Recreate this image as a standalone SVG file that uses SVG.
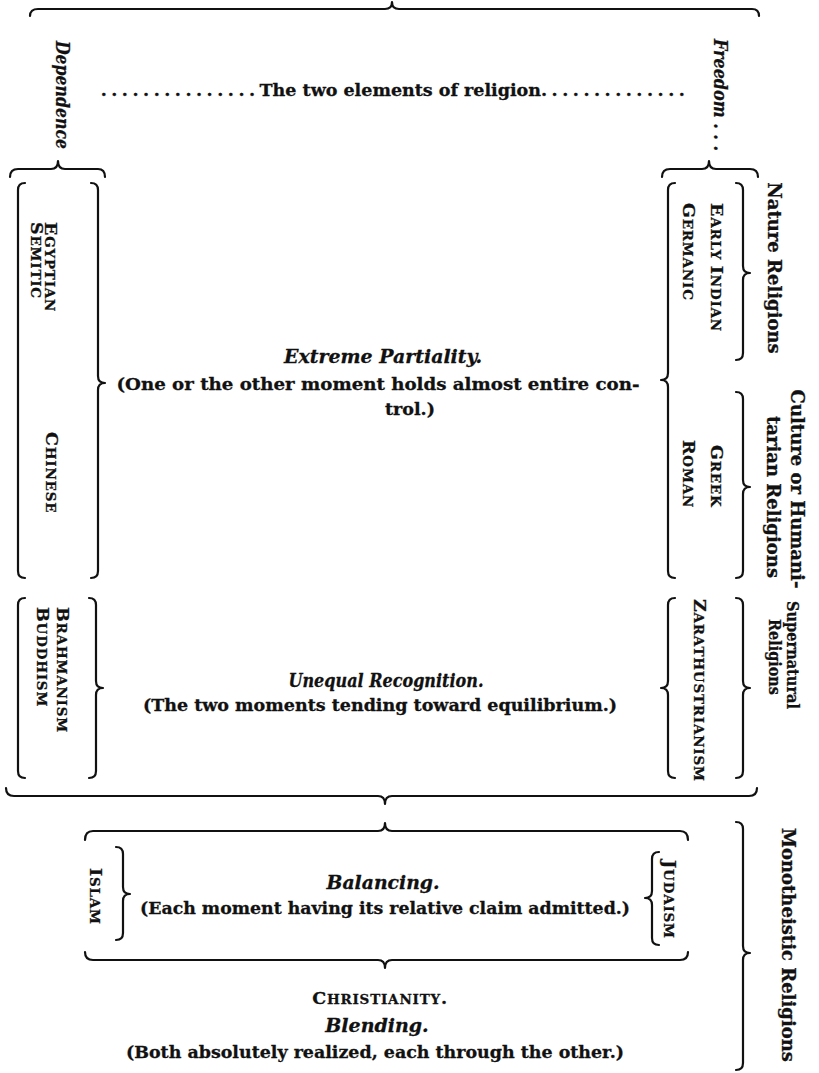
<svg xmlns="http://www.w3.org/2000/svg" width="819" height="1073" viewBox="0 0 819 1073">
<style>
.t{font-family:"DejaVu Serif","Liberation Serif",serif;font-weight:bold;fill:#111;font-size:17.5px;stroke:#111;stroke-width:0.3px}
.i{font-style:italic;font-size:19px}
.c{text-anchor:middle}
.sc{font-size:17.5px;letter-spacing:0.8px}
.sm{font-size:13.5px}
.lb{font-size:18px}
.dots{letter-spacing:4.5px}
.br{fill:none;stroke:#111;stroke-width:2.2;stroke-linecap:round;stroke-linejoin:round}
</style>
<rect width="819" height="1073" fill="#fff"/>
<g id="connectors">
<path class="br" d="M30,16 Q30,9 38,9 L385,9 Q392,9 392,2 Q392,9 399,9 L752,9 Q759,9 759,16"/>
<path class="br" d="M10,177 Q10,169 18,169 L51,169 Q58,169 58,161 Q58,169 65,169 L98,169 Q105,169 105,177"/>
<path class="br" d="M662,177 Q662,169 670,169 L702,169 Q709,169 709,161 Q709,169 716,169 L750,169 Q758,169 758,177"/>
<path class="br" d="M25,183 Q18,183 18,190 L18,571 Q18,578 25,578"/>
<path class="br" d="M91,183 Q98,183 98,190 L98,376 Q98,383 105,383 Q98,383 98,390 L98,571 Q98,578 91,578"/>
<path class="br" d="M675,183 Q668,183 668,190 L668,373 Q668,380 661,380 Q668,380 668,387 L668,571 Q668,578 675,578"/>
<path class="br" d="M736,183 Q743,183 743,190 L743,266 Q743,273 750,273 Q743,273 743,280 L743,353 Q743,360 736,360"/>
<path class="br" d="M736,392 Q743,392 743,399 L743,480 Q743,487 750,487 Q743,487 743,494 L743,571 Q743,578 736,578"/>
<path class="br" d="M25,598 Q18,598 18,605 L18,771 Q18,778 25,778"/>
<path class="br" d="M89,598 Q96,598 96,605 L96,681 Q96,688 103,688 Q96,688 96,695 L96,771 Q96,778 89,778"/>
<path class="br" d="M675,598 Q668,598 668,605 L668,681 Q668,688 661,688 Q668,688 668,695 L668,771 Q668,778 675,778"/>
<path class="br" d="M736,598 Q743,598 743,605 L743,681 Q743,688 750,688 Q743,688 743,695 L743,771 Q743,778 736,778"/>
<path class="br" d="M6,788 Q6,796 14,796 L378,796 Q385,796 385,804 Q385,796 392,796 L749,796 Q757,796 757,788"/>
<path class="br" d="M85,840 Q85,831 93,831 L378,831 Q385,831 385,823 Q385,831 392,831 L680,831 Q688,831 688,840"/>
<path class="br" d="M116,847 Q123,847 123,854 L123,887 Q123,894 130,894 Q123,894 123,901 L123,933 Q123,940 116,940"/>
<path class="br" d="M659,852 Q652,852 652,859 L652,891 Q652,898 645,898 Q652,898 652,905 L652,938 Q652,945 659,945"/>
<path class="br" d="M85,952 Q85,960 93,960 L378,960 Q385,960 385,968 Q385,960 392,960 L680,960 Q688,960 688,952"/>
<path class="br" d="M736,822 Q743,822 743,829 L743,946 Q743,953 750,953 Q743,953 743,960 L743,1063 Q743,1070 736,1070"/>
</g>
<g id="title"><text class="t c" x="395" y="96" font-size="18.5"><tspan class="dots">...............</tspan>The two elements of religion<tspan class="dots">..............</tspan></text></g>
<g id="dependence"><text class="t i c" transform="translate(56,95) rotate(90)" textLength="108" lengthAdjust="spacingAndGlyphs">Dependence</text></g>
<g id="freedom"><text class="t i c" transform="translate(714,95) rotate(90)" textLength="112" lengthAdjust="spacingAndGlyphs">Freedom . . .</text></g>
<g id="egyptian-semitic">
<text class="t sc" transform="translate(45,222) rotate(90)">E<tspan class="sm">GYPTIAN</tspan></text>
<text class="t sc" transform="translate(31,222) rotate(90)">S<tspan class="sm">EMITIC</tspan></text>
</g>
<g id="chinese"><text class="t sc" transform="translate(46,432) rotate(90)">C<tspan class="sm">HINESE</tspan></text></g>
<g id="extreme">
<text class="t i c" x="383" y="363" textLength="198" lengthAdjust="spacingAndGlyphs">Extreme Partiality.</text>
<text class="t c" x="378" y="390" textLength="523" lengthAdjust="spacingAndGlyphs">(One or the other moment holds almost entire con-</text>
<text class="t c" x="410" y="415">trol.)</text>
</g>
<g id="nature">
<text class="t sc" transform="translate(711,203) rotate(90)">E<tspan class="sm">ARLY </tspan>I<tspan class="sm">NDIAN</tspan></text>
<text class="t sc" transform="translate(683,203) rotate(90)">G<tspan class="sm">ERMANIC</tspan></text>
<text class="t lb c" transform="translate(768,268) rotate(90)">Nature Religions</text>
</g>
<g id="culture">
<text class="t sc" transform="translate(711,445) rotate(90)">G<tspan class="sm">REEK</tspan></text>
<text class="t sc" transform="translate(683,440) rotate(90)">R<tspan class="sm">OMAN</tspan></text>
<text class="t lb c" transform="translate(791,489) rotate(90)">Culture or Humani-</text>
<text class="t lb c" transform="translate(767,497) rotate(90)">tarian Religions</text>
</g>
<g id="brahmanism-buddhism">
<text class="t sc" transform="translate(57,607) rotate(90)">B<tspan class="sm">RAHMANISM</tspan></text>
<text class="t sc" transform="translate(37,607) rotate(90)">B<tspan class="sm">UDDHISM</tspan></text>
</g>
<g id="unequal">
<text class="t i c" x="386" y="687" textLength="195" lengthAdjust="spacingAndGlyphs">Unequal Recognition.</text>
<text class="t c" x="380" y="711">(The two moments tending toward equilibrium.)</text>
</g>
<g id="zarathustrianism"><text class="t sc" transform="translate(694,599) rotate(90)">Z<tspan class="sm">ARATHUSTRIANISM</tspan></text></g>
<g id="supernatural">
<text class="t c" font-size="17" transform="translate(787,655) rotate(90)" textLength="108" lengthAdjust="spacingAndGlyphs">Supernatural</text>
<text class="t c" font-size="17" transform="translate(769,657) rotate(90)" textLength="76" lengthAdjust="spacingAndGlyphs">Religions</text>
</g>
<g id="islam"><text class="t sc" transform="translate(90,868) rotate(90)">I<tspan class="sm">SLAM</tspan></text></g>
<g id="balancing">
<text class="t i c" x="383" y="889" textLength="113" lengthAdjust="spacingAndGlyphs">Balancing.</text>
<text class="t c" x="385" y="914" textLength="490" lengthAdjust="spacingAndGlyphs">(Each moment having its relative claim admitted.)</text>
</g>
<g id="judaism"><text class="t sc" transform="translate(664,860) rotate(90)">J<tspan class="sm">UDAISM</tspan></text></g>
<g id="christianity">
<text class="t sc c" x="380" y="1004">C<tspan class="sm">HRISTIANITY</tspan>.</text>
<text class="t i c" x="377" y="1032">Blending.</text>
<text class="t c" x="375" y="1058" textLength="498" lengthAdjust="spacingAndGlyphs">(Both absolutely realized, each through the other.)</text>
</g>
<g id="monotheistic"><text class="t lb c" transform="translate(782,945) rotate(90)">Monotheistic Religions</text></g>
</svg>
